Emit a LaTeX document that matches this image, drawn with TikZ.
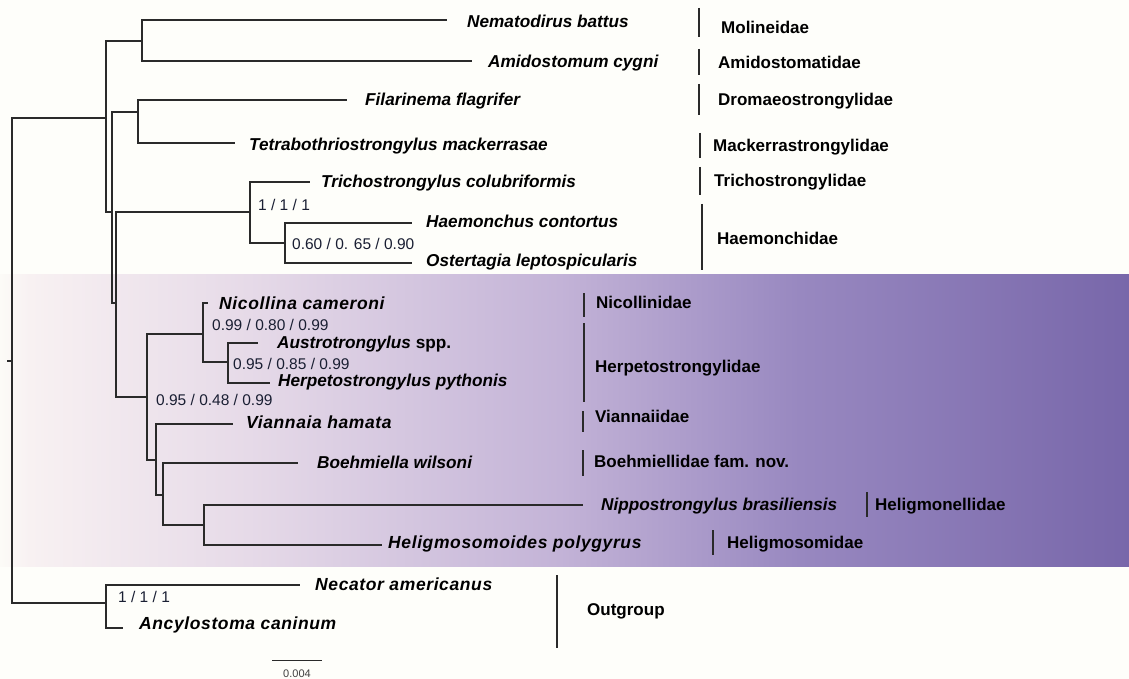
\documentclass[tikz,border=0pt]{standalone}
\usepackage{fontspec}
\setmainfont{Liberation Sans}
\definecolor{bgc}{HTML}{FEFEFA}
\definecolor{g0}{HTML}{FCFBF7}
\definecolor{g1}{HTML}{F8F1F2}
\definecolor{g2}{HTML}{E6DAE8}
\definecolor{g3}{HTML}{C3B3D7}
\definecolor{g4}{HTML}{9888C0}
\definecolor{g5}{HTML}{7867AA}
\definecolor{bsc}{HTML}{1A1F33}
\definecolor{linec}{HTML}{2A2A2A}
\pgfdeclarehorizontalshading{band}{100bp}{color(0bp)=(g0); color(25bp)=(g0); color(26.3bp)=(g1); color(36bp)=(g2); color(49.8bp)=(g3); color(60.4bp)=(g4); color(75bp)=(g5); color(100bp)=(g5)}
\begin{document}
\begin{tikzpicture}[x=1pt,y=-1pt,
  br/.style={draw=linec, line width=1.2pt},
  famline/.style={draw=linec, line width=1.2pt},
  sp/.style={anchor=west, inner sep=0pt, text height=11pt, text depth=0pt, font=\fontsize{17.2}{20}\selectfont\bfseries\itshape},
  spwide/.style={sp, font=\fontsize{17.5}{20}\selectfont\bfseries\itshape\addfontfeature{LetterSpace=3.5}},
  fam/.style={anchor=west, inner sep=0pt, text height=11pt, text depth=0pt, font=\fontsize{17}{20}\selectfont\bfseries},
  bs/.style={anchor=west, inner sep=0pt, text height=10.5pt, text depth=0pt, font=\fontsize{15.5}{18}\selectfont, text=bsc},
  sc/.style={inner sep=0pt, font=\fontsize{11}{13}\selectfont, text=black!75}]
\useasboundingbox (0,0) rectangle (1129,679);
\fill[bgc] (0,0) rectangle (1129,679);
\shade[shading=band] (0,274) rectangle (1129,566);

% internal nodes
\coordinate (R0) at (7,361);
\coordinate (R) at (12,361);
\coordinate (A) at (106,118);
\coordinate (NA) at (142,41);
\coordinate (B) at (112,212);
\coordinate (FT) at (138,112);
\coordinate (C) at (116,303);
\coordinate (T) at (250,212);
\coordinate (HO) at (285,243);
\coordinate (D) at (147,397);
\coordinate (NH) at (203,334);
\coordinate (AH) at (228,362);
\coordinate (E) at (156,460);
\coordinate (F) at (163,495);
\coordinate (G) at (204,525);
\coordinate (O) at (106,603);
% leaf tips
\coordinate (nem) at (447,20);
\coordinate (ami) at (472,61);
\coordinate (fil) at (347,100);
\coordinate (tet) at (235,143);
\coordinate (tri) at (310,182);
\coordinate (hae) at (412,223);
\coordinate (ost) at (412,263);
\coordinate (nic) at (208,303);
\coordinate (aus) at (258,343);
\coordinate (her) at (270,383);
\coordinate (via) at (233,424);
\coordinate (boe) at (298,463);
\coordinate (nip) at (583,505);
\coordinate (hel) at (382,545);
\coordinate (nec) at (300,585);
\coordinate (anc) at (123,628);

% branches
\draw[br] (R0) -- (R);
\draw[br] (R) |- (A);
\draw[br] (R) |- (O);
\draw[br] (A) |- (NA);
\draw[br] (A) |- (B);
\draw[br] (NA) |- (nem);
\draw[br] (NA) |- (ami);
\draw[br] (B) |- (FT);
\draw[br] (B) |- (C);
\draw[br] (FT) |- (fil);
\draw[br] (FT) |- (tet);
\draw[br] (C) |- (T);
\draw[br] (C) |- (D);
\draw[br] (T) |- (tri);
\draw[br] (T) |- (HO);
\draw[br] (HO) |- (hae);
\draw[br] (HO) |- (ost);
\draw[br] (D) |- (NH);
\draw[br] (D) |- (E);
\draw[br] (NH) |- (nic);
\draw[br] (NH) |- (AH);
\draw[br] (AH) |- (aus);
\draw[br] (AH) |- (her);
\draw[br] (E) |- (via);
\draw[br] (E) |- (F);
\draw[br] (F) |- (boe);
\draw[br] (F) |- (G);
\draw[br] (G) |- (nip);
\draw[br] (G) |- (hel);
\draw[br] (O) |- (nec);
\draw[br] (O) |- (anc);

% species labels
\node[sp] (nemT) at (467,22) {Nematodirus battus};
\node[sp] (amiT) at (488,62) {Amidostomum cygni};
\node[sp] (filT) at (365,100) {Filarinema flagrifer};
\node[sp] (tetT) at (249,145) {Tetrabothriostrongylus mackerrasae};
\node[sp] (triT) at (321,182) {Trichostrongylus colubriformis};
\node[sp] (haeT) at (426,222) {Haemonchus contortus};
\node[sp] (ostT) at (426,261) {Ostertagia leptospicularis};
\node[spwide] (nicT) at (219,304) {Nicollina cameroni};
\node[sp] (ausT) at (277,343) {Austrotrongylus {\upshape spp.}};
\node[sp] (herT) at (278,381) {Herpetostrongylus pythonis};
\node[spwide] (viaT) at (246,423) {Viannaia hamata};
\node[sp] (boeT) at (317,463) {Boehmiella wilsoni};
\node[sp] (nipT) at (601,505) {Nippostrongylus brasiliensis};
\node[spwide] (helT) at (388,543) {Heligmosomoides polygyrus};
\node[spwide] (necT) at (315,585) {Necator americanus};
\node[spwide] (ancT) at (139,624) {Ancylostoma caninum};

% support values
\node[bs] (bsT) at (258,205) {1 / 1 / 1};
\node[bs] (bsHO) at (292,244) {0.60 / 0. 65 / 0.90};
\node[bs] (bsNH) at (212,325) {0.99 / 0.80 / 0.99};
\node[bs] (bsAH) at (233,364) {0.95 / 0.85 / 0.99};
\node[bs] (bsD) at (156,400) {0.95 / 0.48 / 0.99};
\node[bs] (bsO) at (118,597) {1 / 1 / 1};

% family bars and labels
\draw[famline] (699,8) -- (699,37);
\node[fam] (f1) at (721,28) {Molineidae};
\draw[famline] (699,49) -- (699,75);
\node[fam] (f2) at (718,63) {Amidostomatidae};
\draw[famline] (699,84) -- (699,115);
\node[fam] (f3) at (718,100) {Dromaeostrongylidae};
\draw[famline] (700,133) -- (700,158);
\node[fam] (f4) at (713,146) {Mackerrastrongylidae};
\draw[famline] (700,167) -- (700,195);
\node[fam] (f5) at (714,181) {Trichostrongylidae};
\draw[famline] (702,204) -- (702,270);
\node[fam] (f6) at (717,239) {Haemonchidae};
\draw[famline] (584,293) -- (584,317);
\node[fam] (f7) at (596,303) {Nicollinidae};
\draw[famline] (584,323) -- (584,402);
\node[fam] (f8) at (595,367) {Herpetostrongylidae};
\draw[famline] (583,411) -- (583,432);
\node[fam] (f9) at (595,417) {Viannaiidae};
\draw[famline] (583,450) -- (583,476);
\node[fam] (f10) at (594,462) {Boehmiellidae fam. nov.};
\draw[famline] (867,492) -- (867,517);
\node[fam] (f11) at (875,505) {Heligmonellidae};
\draw[famline] (713,530) -- (713,555);
\node[fam] (f12) at (727,543) {Heligmosomidae};
\draw[famline] (557,575) -- (557,648);
\node[fam] (f13) at (587,610) {Outgroup};

% scale bar
\coordinate (s1) at (272,660);
\coordinate (s2) at (322,660);
\draw[line width=1pt, draw=linec] (s1) -- (s2);
\node[sc] (sl) at (297,674) {0.004};
\end{tikzpicture}
\end{document}
